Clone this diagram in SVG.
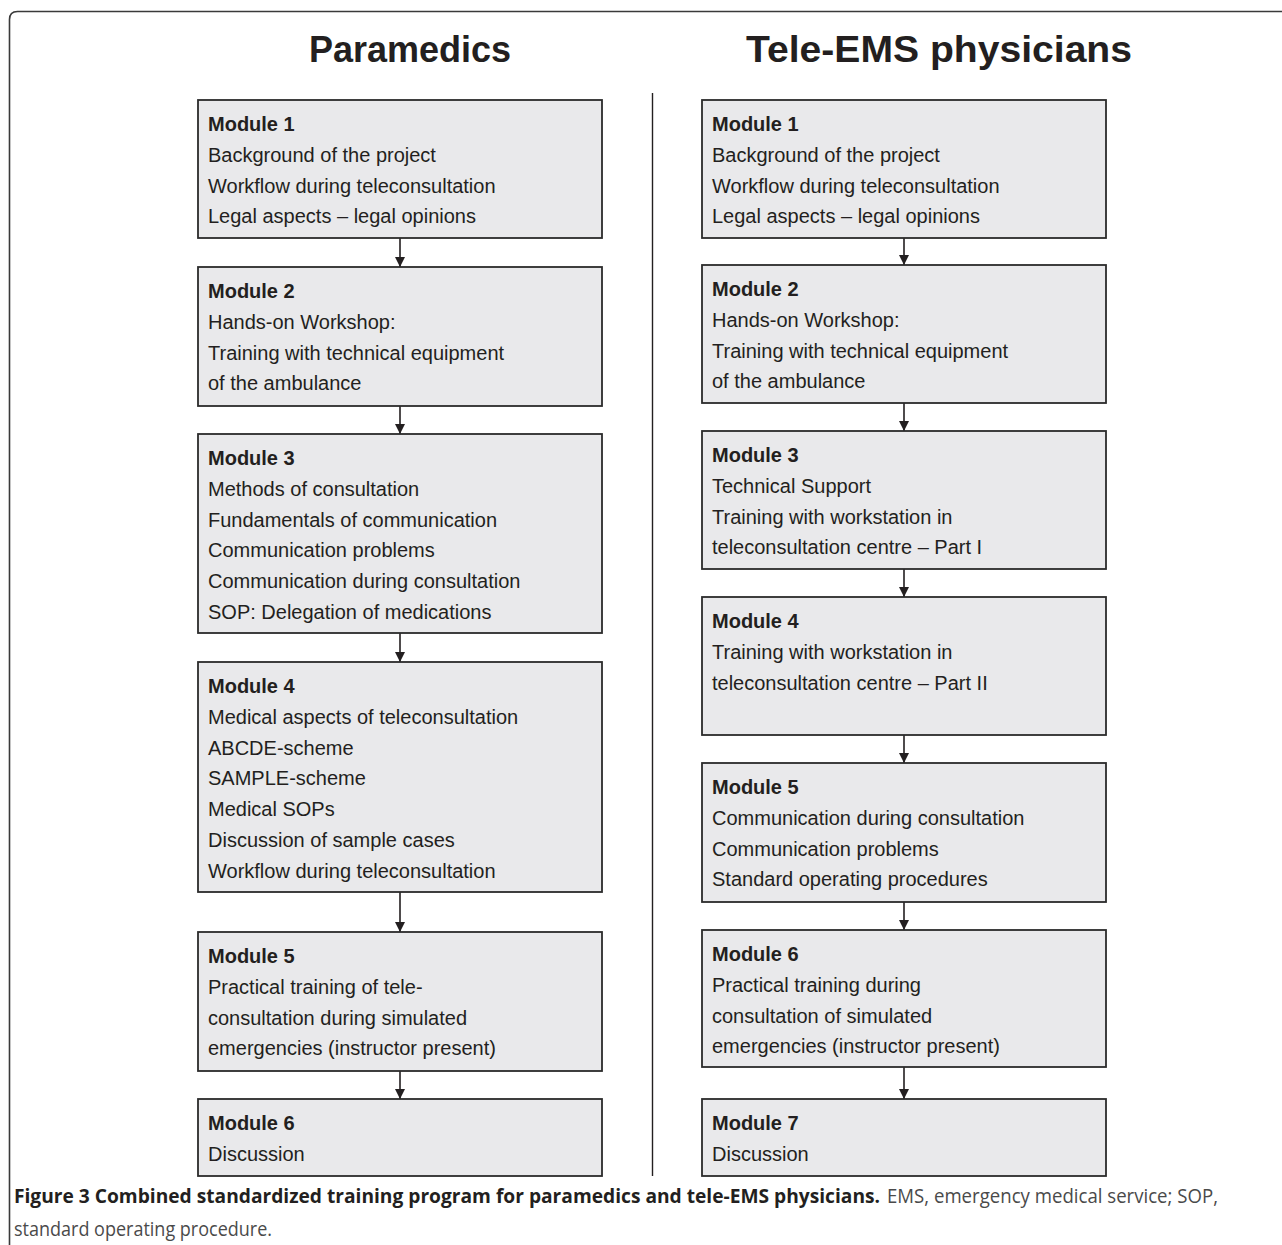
<svg xmlns="http://www.w3.org/2000/svg" width="1282" height="1245" viewBox="0 0 1282 1245">
<defs>
<style>
.frame{fill:none;stroke:#3a3a3a;stroke-width:1.6}
.box{fill:#e9e9eb;stroke:#2b2b2b;stroke-width:1.8}
.t{font-family:"Liberation Sans",Arial,Helvetica,sans-serif;font-size:20px;fill:#231f20}
.b{font-weight:bold}
.title{font-family:"Liberation Sans",Arial,Helvetica,sans-serif;font-size:36px;font-weight:bold;fill:#231f20;text-anchor:middle}
.cap{font-family:"Open Sans","Liberation Sans",sans-serif;font-size:20px}
.capb{font-weight:bold;fill:#231f20}
.capn{fill:#4a4a4a}
.conn{stroke:#231f20;stroke-width:1.6;fill:none}
</style>
<marker id="ah" markerUnits="userSpaceOnUse" markerWidth="12" markerHeight="10" refX="10" refY="5" orient="auto">
<path d="M0,0 L10,5 L0,10 Z" fill="#231f20"/>
</marker>
</defs>
<rect width="1282" height="1245" fill="#ffffff"/>
<path class="frame" d="M9.5,1260 L9.5,19.5 Q9.5,11.5 17.5,11.5 L1290,11.5"/>
<g id="titles">
<text class="title" x="410" y="62">Paramedics</text>
<text class="title" x="939" y="62" textLength="386" lengthAdjust="spacingAndGlyphs">Tele-EMS physicians</text>
</g>
<line x1="652.5" y1="93" x2="652.5" y2="1176" stroke="#231f20" stroke-width="1.4"/>
<g id="connectors">
<line class="conn" x1="400" y1="238" x2="400" y2="267" marker-end="url(#ah)"/>
<line class="conn" x1="400" y1="406" x2="400" y2="434" marker-end="url(#ah)"/>
<line class="conn" x1="400" y1="633" x2="400" y2="662" marker-end="url(#ah)"/>
<line class="conn" x1="400" y1="892" x2="400" y2="932" marker-end="url(#ah)"/>
<line class="conn" x1="400" y1="1071" x2="400" y2="1099" marker-end="url(#ah)"/>
<line class="conn" x1="904" y1="238" x2="904" y2="265" marker-end="url(#ah)"/>
<line class="conn" x1="904" y1="403" x2="904" y2="431" marker-end="url(#ah)"/>
<line class="conn" x1="904" y1="569" x2="904" y2="597" marker-end="url(#ah)"/>
<line class="conn" x1="904" y1="735" x2="904" y2="763" marker-end="url(#ah)"/>
<line class="conn" x1="904" y1="902" x2="904" y2="930" marker-end="url(#ah)"/>
<line class="conn" x1="904" y1="1067" x2="904" y2="1099" marker-end="url(#ah)"/>
</g>
<g id="p-module1">
<rect class="box" x="198" y="100" width="404" height="138"/>
<text class="t b" x="208" y="131">Module 1</text>
<text class="t" x="208" y="161.8">Background of the project</text>
<text class="t" x="208" y="192.6">Workflow during teleconsultation</text>
<text class="t" x="208" y="223.4">Legal aspects – legal opinions</text>
</g>
<g id="p-module2">
<rect class="box" x="198" y="267" width="404" height="139"/>
<text class="t b" x="208" y="298">Module 2</text>
<text class="t" x="208" y="328.8">Hands-on Workshop:</text>
<text class="t" x="208" y="359.6">Training with technical equipment</text>
<text class="t" x="208" y="390.4">of the ambulance</text>
</g>
<g id="p-module3">
<rect class="box" x="198" y="434" width="404" height="199"/>
<text class="t b" x="208" y="465">Module 3</text>
<text class="t" x="208" y="495.8">Methods of consultation</text>
<text class="t" x="208" y="526.6">Fundamentals of communication</text>
<text class="t" x="208" y="557.4">Communication problems</text>
<text class="t" x="208" y="588.2">Communication during consultation</text>
<text class="t" x="208" y="619">SOP: Delegation of medications</text>
</g>
<g id="p-module4">
<rect class="box" x="198" y="662" width="404" height="230"/>
<text class="t b" x="208" y="693">Module 4</text>
<text class="t" x="208" y="723.8">Medical aspects of teleconsultation</text>
<text class="t" x="208" y="754.6">ABCDE-scheme</text>
<text class="t" x="208" y="785.4">SAMPLE-scheme</text>
<text class="t" x="208" y="816.2">Medical SOPs</text>
<text class="t" x="208" y="847">Discussion of sample cases</text>
<text class="t" x="208" y="877.8">Workflow during teleconsultation</text>
</g>
<g id="p-module5">
<rect class="box" x="198" y="932" width="404" height="139"/>
<text class="t b" x="208" y="963">Module 5</text>
<text class="t" x="208" y="993.8">Practical training of tele-</text>
<text class="t" x="208" y="1024.6">consultation during simulated</text>
<text class="t" x="208" y="1055.4">emergencies (instructor present)</text>
</g>
<g id="p-module6">
<rect class="box" x="198" y="1099" width="404" height="77"/>
<text class="t b" x="208" y="1130">Module 6</text>
<text class="t" x="208" y="1160.8">Discussion</text>
</g>
<g id="t-module1">
<rect class="box" x="702" y="100" width="404" height="138"/>
<text class="t b" x="712" y="131">Module 1</text>
<text class="t" x="712" y="161.8">Background of the project</text>
<text class="t" x="712" y="192.6">Workflow during teleconsultation</text>
<text class="t" x="712" y="223.4">Legal aspects – legal opinions</text>
</g>
<g id="t-module2">
<rect class="box" x="702" y="265" width="404" height="138"/>
<text class="t b" x="712" y="296">Module 2</text>
<text class="t" x="712" y="326.8">Hands-on Workshop:</text>
<text class="t" x="712" y="357.6">Training with technical equipment</text>
<text class="t" x="712" y="388.4">of the ambulance</text>
</g>
<g id="t-module3">
<rect class="box" x="702" y="431" width="404" height="138"/>
<text class="t b" x="712" y="462">Module 3</text>
<text class="t" x="712" y="492.8">Technical Support</text>
<text class="t" x="712" y="523.6">Training with workstation in</text>
<text class="t" x="712" y="554.4">teleconsultation centre – Part I</text>
</g>
<g id="t-module4">
<rect class="box" x="702" y="597" width="404" height="138"/>
<text class="t b" x="712" y="628">Module 4</text>
<text class="t" x="712" y="658.8">Training with workstation in</text>
<text class="t" x="712" y="689.6">teleconsultation centre – Part II</text>
</g>
<g id="t-module5">
<rect class="box" x="702" y="763" width="404" height="139"/>
<text class="t b" x="712" y="794">Module 5</text>
<text class="t" x="712" y="824.8">Communication during consultation</text>
<text class="t" x="712" y="855.6">Communication problems</text>
<text class="t" x="712" y="886.4">Standard operating procedures</text>
</g>
<g id="t-module6">
<rect class="box" x="702" y="930" width="404" height="137"/>
<text class="t b" x="712" y="961">Module 6</text>
<text class="t" x="712" y="991.8">Practical training during</text>
<text class="t" x="712" y="1022.6">consultation of simulated</text>
<text class="t" x="712" y="1053.4">emergencies (instructor present)</text>
</g>
<g id="t-module7">
<rect class="box" x="702" y="1099" width="404" height="77"/>
<text class="t b" x="712" y="1130">Module 7</text>
<text class="t" x="712" y="1160.8">Discussion</text>
</g>
<g id="caption">
<text class="cap capb" x="14" y="1203" textLength="866" lengthAdjust="spacingAndGlyphs">Figure 3 Combined standardized training program for paramedics and tele-EMS physicians.</text>
<text class="cap capn" x="887" y="1203" textLength="331" lengthAdjust="spacingAndGlyphs">EMS, emergency medical service; SOP,</text>
<text class="cap capn" x="14" y="1236" textLength="258" lengthAdjust="spacingAndGlyphs">standard operating procedure.</text>
</g>
</svg>
